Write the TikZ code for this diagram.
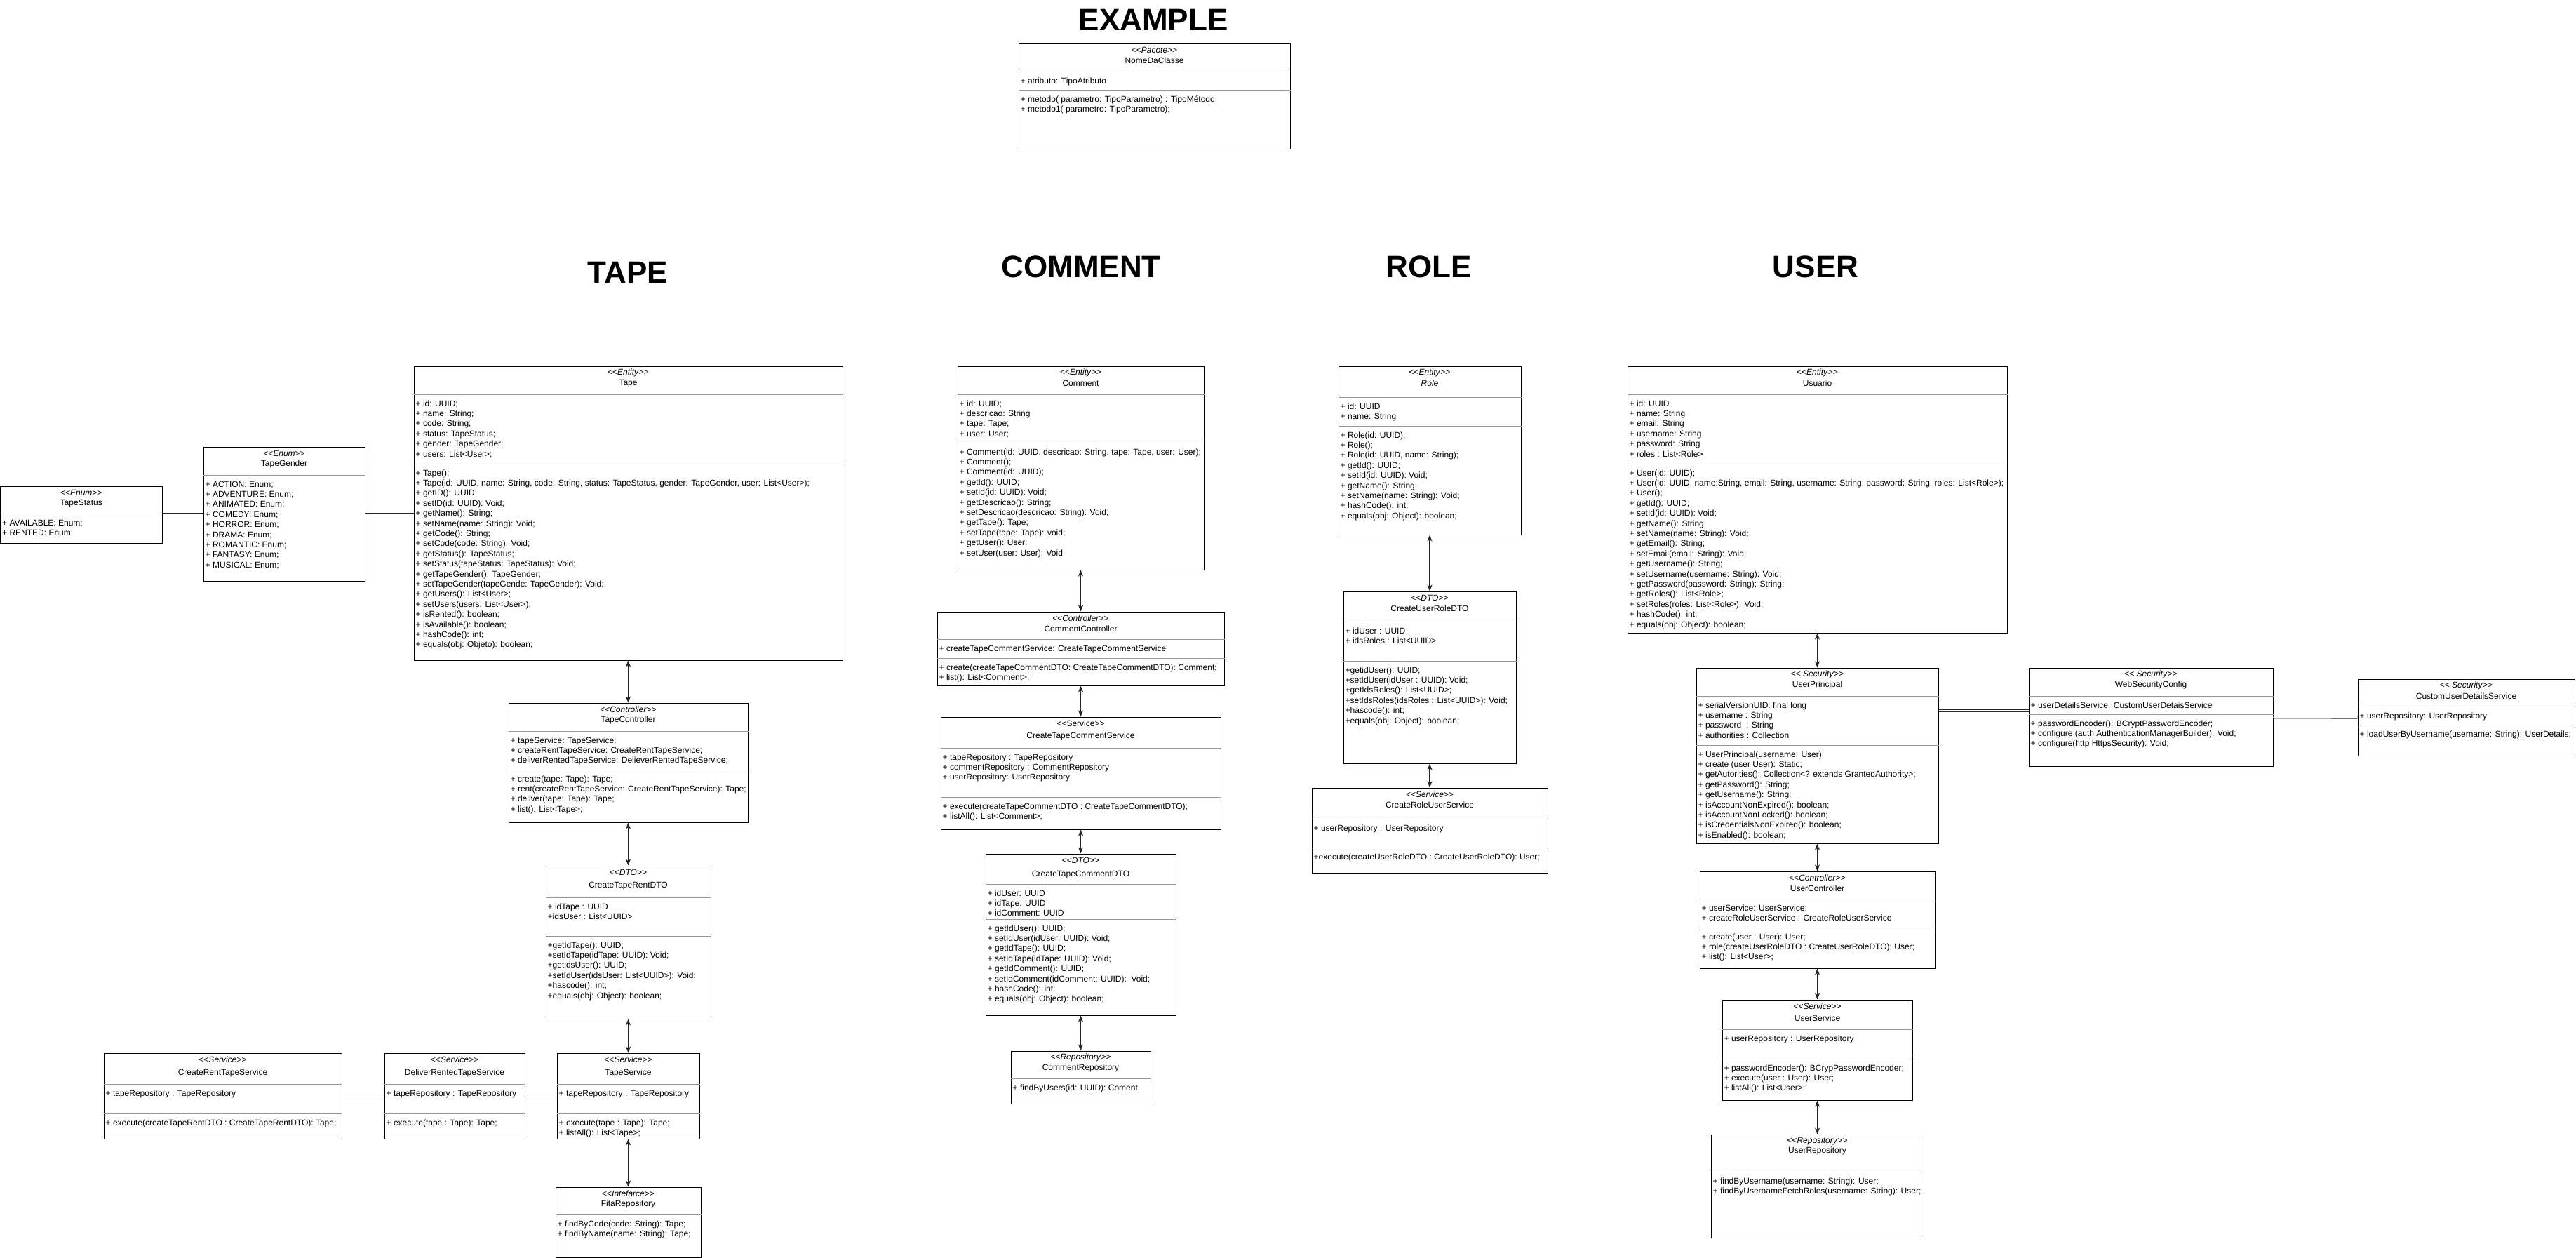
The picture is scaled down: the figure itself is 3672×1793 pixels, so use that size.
\documentclass[tikz,border=0pt]{standalone}
\usepackage{fontspec}
\setmainfont{Liberation Sans}
\usetikzlibrary{arrows.meta,positioning,fit}

% guillemets written as two signs
\newcommand{\stO}{<\kern0pt<}
\newcommand{\stC}{>\kern0pt>}
% class box: [title offset]{name}{x1}{y1}{x2}{y2}{stereotype}{title}
\newcommand{\umlclass}[8][25]{%
  \node[umlbox, fit={(#3,#4) (#5,#6)}] (#2) {};
  \node[hdr] at ([yshift=-10pt]#2.north) {\stO#7\stC};
  \node[hdr] at ([yshift=-#1pt]#2.north) {#8};
}
% compartment line
\newcommand{\umlsep}[2]{\draw[sepline] (#1.west |- 0,#2) -- (#1.east |- 0,#2);}
% members under a compartment line
\newcommand{\umltext}[3]{\path (#1.west |- 0,#2) ++(3,17) node[members] {\begin{tabular}[t]{@{}l@{}}#3\end{tabular}};}

\begin{document}
\begin{tikzpicture}[x=1pt,y=-1pt,font=\fontsize{12}{14.4}\selectfont,
  >={Stealth[length=9pt,width=7pt,inset=2.5pt]},
  umlbox/.style={draw=black,line width=1pt,inner sep=0pt},
  hdr/.style={inner sep=0pt},
  members/.style={anchor=base west,inner sep=0pt},
  sepline/.style={draw=black!40,line width=0.9pt},
  conn/.style={<->,draw=black!85,line width=1.3pt},
  dbllink/.style={draw=black!85,line width=0.9pt,double=white,double distance=2.6pt},
  partlabel/.style={font=\fontsize{44}{50}\selectfont\bfseries}]
\useasboundingbox (0,0) rectangle (3672,1793);
\fill[white] (0,0) rectangle (3672,1793);

% titles
\node[partlabel] (lexample) at (1644,28) {EXAMPLE};
\node[partlabel] (ltape) at (895,388) {TAPE};
\node[partlabel] (lcomment) at (1541,380) {COMMENT};
\node[partlabel] (lrole) at (2037,380) {ROLE};
\node[partlabel] (luser) at (2588,380) {USER};

% EXAMPLE
\umlclass{pacote}{1452}{62}{1839}{212}{\textit{Pacote}}{NomeDaClasse}
\umlsep{pacote}{102}
\umlsep{pacote}{128}
\umltext{pacote}{102}{+ atributo: TipoAtributo}
\umltext{pacote}{128}{+ metodo( parametro: TipoParametro) : TipoMétodo;\\+ metodo1( parametro: TipoParametro);}

% TAPE
\umlclass{tstatus}{0.5}{693}{231}{774}{\textit{Enum}}{TapeStatus}
\umlsep{tstatus}{732}
\umltext{tstatus}{732}{+ AVAILABLE: Enum;\\+ RENTED: Enum;}

\umlclass{tgender}{290}{637}{520}{828}{\textit{Enum}}{TapeGender}
\umlsep{tgender}{677}
\umltext{tgender}{677}{+ ACTION: Enum;\\+ ADVENTURE: Enum;\\+ ANIMATED: Enum;\\+ COMEDY: Enum;\\+ HORROR: Enum;\\+ DRAMA: Enum;\\+ ROMANTIC: Enum;\\+ FANTASY: Enum;\\+ MUSICAL: Enum;}

\umlclass{tape}{590}{522}{1201}{941}{\textit{Entity}}{Tape}
\umlsep{tape}{562}
\umlsep{tape}{661}
\umltext{tape}{562}{+ id: UUID;\\+ name: String;\\+ code: String;\\+ status: TapeStatus;\\+ gender: TapeGender;\\+ users: List<User>;}
\umltext{tape}{661}{+ Tape();\\+ Tape(id: UUID, name: String, code: String, status: TapeStatus, gender: TapeGender, user: List<User>);\\+ getID(): UUID;\\+ setID(id: UUID): Void;\\+ getName(): String;\\+ setName(name: String): Void;\\+ getCode(): String;\\+ setCode(code: String): Void;\\+ getStatus(): TapeStatus;\\+ setStatus(tapeStatus: TapeStatus): Void;\\+ getTapeGender(): TapeGender;\\+ setTapeGender(tapeGende: TapeGender): Void;\\+ getUsers(): List<User>;\\+ setUsers(users: List<User>);\\+ isRented(): boolean;\\+ isAvailable(): boolean;\\+ hashCode(): int;\\+ equals(obj: Objeto): boolean;}

\umlclass{tapectrl}{725}{1002}{1066}{1172}{\textit{Controller}}{TapeController}
\umlsep{tapectrl}{1042}
\umlsep{tapectrl}{1097}
\umltext{tapectrl}{1042}{+ tapeService: TapeService;\\+ createRentTapeService: CreateRentTapeService;\\+ deliverRentedTapeService: DelieverRentedTapeService;}
\umltext{tapectrl}{1097}{+ create(tape: Tape): Tape;\\+ rent(createRentTapeService: CreateRentTapeService): Tape;\\+ deliver(tape: Tape): Tape;\\+ list(): List<Tape>;}

\umlclass[29]{rentdto}{778}{1234}{1013}{1452}{\textit{DTO}}{CreateTapeRentDTO}
\umlsep{rentdto}{1279}
\umlsep{rentdto}{1334}
\umltext{rentdto}{1279}{+ idTape : UUID\\+idsUser : List<UUID>}
\umltext{rentdto}{1334}{+getIdTape(): UUID;\\+setIdTape(idTape: UUID): Void;\\+getidsUser(): UUID;\\+setIdUser(idsUser: List<UUID>): Void;\\+hascode(): int;\\+equals(obj: Object): boolean;}

\umlclass[29]{crent}{148}{1501}{487}{1623}{\textit{Service}}{CreateRentTapeService}
\umlsep{crent}{1545}
\umlsep{crent}{1587}
\umltext{crent}{1545}{+ tapeRepository : TapeRepository}
\umltext{crent}{1587}{+ execute(createTapeRentDTO : CreateTapeRentDTO): Tape;}

\umlclass[29]{deliver}{548}{1501}{748}{1623}{\textit{Service}}{DeliverRentedTapeService}
\umlsep{deliver}{1545}
\umlsep{deliver}{1587}
\umltext{deliver}{1545}{+ tapeRepository : TapeRepository}
\umltext{deliver}{1587}{+ execute(tape : Tape): Tape;}

\umlclass[29]{tapesvc}{794}{1501}{997}{1623}{\textit{Service}}{TapeService}
\umlsep{tapesvc}{1545}
\umlsep{tapesvc}{1587}
\umltext{tapesvc}{1545}{+ tapeRepository : TapeRepository}
\umltext{tapesvc}{1587}{+ execute(tape : Tape): Tape;\\+ listAll(): List<Tape>;}

\umlclass{fitarepo}{792}{1692}{999}{1792}{\textit{Intefarce}}{FitaRepository}
\umlsep{fitarepo}{1731}
\umltext{fitarepo}{1731}{+ findByCode(code: String): Tape;\\+ findByName(name: String): Tape;}

\draw[dbllink] (tstatus.east) -- (tstatus.east -| tgender.west);
\draw[dbllink] (tstatus.east -| tgender.east) -- (tstatus.east -| tape.west);
\draw[conn] (tape) -- (tapectrl);
\draw[conn] (tapectrl) -- (rentdto);
\draw[conn] (rentdto) -- (tapesvc);
\draw[conn] (tapesvc) -- (fitarepo);
\draw[dbllink] (crent) -- (deliver);
\draw[dbllink] (deliver) -- (tapesvc);

% COMMENT
\umlclass{comment}{1365}{522}{1716}{812}{\textit{Entity}}{Comment}
\umlsep{comment}{562}
\umlsep{comment}{631}
\umltext{comment}{562}{+ id: UUID;\\+ descricao: String\\+ tape: Tape;\\+ user: User;}
\umltext{comment}{631}{+ Comment(id: UUID, descricao: String, tape: Tape, user: User);\\+ Comment();\\+ Comment(id: UUID);\\+ getId(): UUID;\\+ setId(id: UUID): Void;\\+ getDescricao(): String;\\+ setDescricao(descricao: String): Void;\\+ getTape(): Tape;\\+ setTape(tape: Tape): void;\\+ getUser(): User;\\+ setUser(user: User): Void}

\umlclass{cmtctrl}{1336}{872}{1745}{977}{\textit{Controller}}{CommentController}
\umlsep{cmtctrl}{911}
\umlsep{cmtctrl}{938}
\umltext{cmtctrl}{911}{+ createTapeCommentService: CreateTapeCommentService}
\umltext{cmtctrl}{938}{+ create(createTapeCommentDTO: CreateTapeCommentDTO): Comment;\\+ list(): List<Comment>;}

\umlclass[28]{cmtsvc}{1341}{1022}{1740}{1182}{Service}{CreateTapeCommentService}
\umlsep{cmtsvc}{1066}
\umlsep{cmtsvc}{1136}
\umltext{cmtsvc}{1066}{+ tapeRepository : TapeRepository\\+ commentRepository : CommentRepository\\+ userRepository: UserRepository}
\umltext{cmtsvc}{1136}{+ execute(createTapeCommentDTO : CreateTapeCommentDTO);\\+ listAll(): List<Comment>;}

\umlclass[30]{cmtdto}{1405}{1217}{1676}{1447}{\textit{DTO}}{CreateTapeCommentDTO}
\umlsep{cmtdto}{1260}
\umlsep{cmtdto}{1310}
\umltext{cmtdto}{1260}{+ idUser: UUID\\+ idTape: UUID\\+ idComment: UUID}
\umltext{cmtdto}{1310}{+ getIdUser(): UUID;\\+ setIdUser(idUser: UUID): Void;\\+ getIdTape(): UUID;\\+ setIdTape(idTape: UUID): Void;\\+ getIdComment(): UUID;\\+ setIdComment(idComment: UUID): \ Void;\\+ hashCode(): int;\\+ equals(obj: Object): boolean;}

\umlclass{cmtrepo}{1441}{1498}{1640}{1573}{\textit{Repository}}{CommentRepository}
\umlsep{cmtrepo}{1537}
\umltext{cmtrepo}{1537}{+ findByUsers(id: UUID): Coment}

\draw[conn] (comment) -- (cmtctrl);
\draw[conn] (cmtctrl) -- (cmtsvc);
\draw[conn] (cmtsvc) -- (cmtdto);
\draw[conn] (cmtdto) -- (cmtrepo);

% ROLE
\umlclass{role}{1908}{522}{2168}{762}{\textit{Entity}}{\textit{Role}}
\umlsep{role}{566}
\umlsep{role}{607}
\umltext{role}{566}{+ id: UUID\\+ name: String}
\umltext{role}{607}{+ Role(id: UUID);\\+ Role();\\+ Role(id: UUID, name: String);\\+ getId(): UUID;\\+ setId(id: UUID): Void;\\+ getName(): String;\\+ setName(name: String): Void;\\+ hashCode(): int;\\+ equals(obj: Object): boolean;}

\umlclass{roledto}{1915}{843}{2161}{1088}{\textit{DTO}}{CreateUserRoleDTO}
\umlsep{roledto}{886}
\umlsep{roledto}{942}
\umltext{roledto}{886}{+ idUser : UUID\\+ idsRoles : List<UUID>}
\umltext{roledto}{942}{+getidUser(): UUID;\\+setIdUser(idUser : UUID): Void;\\+getIdsRoles(): List<UUID>;\\+setIdsRoles(idsRoles : List<UUID>): Void;\\+hascode(): int;\\+equals(obj: Object): boolean;}

\umlclass{rolesvc}{1870}{1123}{2206}{1244}{\textit{Service}}{CreateRoleUserService}
\umlsep{rolesvc}{1167}
\umlsep{rolesvc}{1208}
\umltext{rolesvc}{1167}{+ userRepository : UserRepository}
\umltext{rolesvc}{1208}{+execute(createUserRoleDTO : CreateUserRoleDTO): User;}

\draw[conn] (role) -- (roledto);
\draw[conn] (roledto) -- (rolesvc);

% USER
\umlclass{usuario}{2320}{522}{2861}{902}{\textit{Entity}}{Usuario}
\umlsep{usuario}{562}
\umlsep{usuario}{661}
\umltext{usuario}{562}{+ id: UUID\\+ name: String\\+ email: String\\+ username: String\\+ password: String\\+ roles : List<Role>}
\umltext{usuario}{661}{+ User(id: UUID);\\+ User(id: UUID, name:String, email: String, username: String, password: String, roles: List<Role>);\\+ User();\\+ getId(): UUID;\\+ setId(id: UUID): Void;\\+ getName(): String;\\+ setName(name: String): Void;\\+ getEmail(): String;\\+ setEmail(email: String): Void;\\+ getUsername(): String;\\+ setUsername(username: String): Void;\\+ getPassword(password: String): String;\\+ getRoles(): List<Role>;\\+ setRoles(roles: List<Role>): Void;\\+ hashCode(): int;\\+ equals(obj: Object): boolean;}

\umlclass{uprin}{2418}{952}{2763}{1202}{\ \textit{Security}}{UserPrincipal}
\umlsep{uprin}{992}
\umlsep{uprin}{1062}
\umltext{uprin}{992}{+ serialVersionUID: final long\\+ username : String\\+ password \ : String\\+ authorities : Collection}
\umltext{uprin}{1062}{+ UserPrincipal(username: User);\\+ create (user User): Static;\\+ getAutorities(): Collection<? extends GrantedAuthority>;\\+ getPassword(): String;\\+ getUsername(): String;\\+ isAccountNonExpired(): boolean;\\+ isAccountNonLocked(): boolean;\\+ isCredentialsNonExpired(): boolean;\\+ isEnabled(): boolean;}

\umlclass{wsc}{2892}{952}{3240}{1092}{\ \textit{Security}}{WebSecurityConfig}
\umlsep{wsc}{992}
\umlsep{wsc}{1018}
\umltext{wsc}{992}{+ userDetailsService: CustomUserDetaisService}
\umltext{wsc}{1018}{+ passwordEncoder(): BCryptPasswordEncoder;\\+ configure (auth AuthenticationManagerBuilder): Void;\\+ configure(http HttpsSecurity): Void;}

\umlclass{cuds}{3361}{968}{3670}{1077}{\ \textit{Security}}{CustomUserDetailsService}
\umlsep{cuds}{1007}
\umlsep{cuds}{1033}
\umltext{cuds}{1007}{+ userRepository: UserRepository}
\umltext{cuds}{1033}{+ loadUserByUsername(username: String): UserDetails;}

\umlclass{userctrl}{2423}{1242}{2758}{1380}{\textit{Controller}}{UserController}
\umlsep{userctrl}{1281}
\umlsep{userctrl}{1322}
\umltext{userctrl}{1281}{+ userService: UserService;\\+ createRoleUserService : CreateRoleUserService}
\umltext{userctrl}{1322}{+ create(user : User): User;\\+ role(createUserRoleDTO : CreateUserRoleDTO): User;\\+ list(): List<User>;}

\umlclass[27]{usersvc}{2455}{1425}{2726}{1568}{\textit{Service}}{UserService}
\umlsep{usersvc}{1467}
\umlsep{usersvc}{1509}
\umltext{usersvc}{1467}{+ userRepository : UserRepository}
\umltext{usersvc}{1509}{+ passwordEncoder(): BCrypPasswordEncoder;\\+ execute(user : User): User;\\+ listAll(): List<User>;}

\umlclass[24]{userrepo}{2439}{1617}{2742}{1764}{\textit{Repository}}{UserRepository}
\umlsep{userrepo}{1670}
\umltext{userrepo}{1670}{+ findByUsername(username: String): User;\\+ findByUsernameFetchRoles(username: String): User;}

\draw[conn] (usuario) -- (uprin);
\draw[conn] (uprin) -- (userctrl);
\draw[conn] (userctrl) -- (usersvc);
\draw[conn] (usersvc) -- (userrepo);
\draw[dbllink] ([yshift=9pt]wsc.west) -- ([yshift=9pt]wsc.west -| uprin.east);
\draw[dbllink] (wsc) -- (cuds);
\end{tikzpicture}
\end{document}
